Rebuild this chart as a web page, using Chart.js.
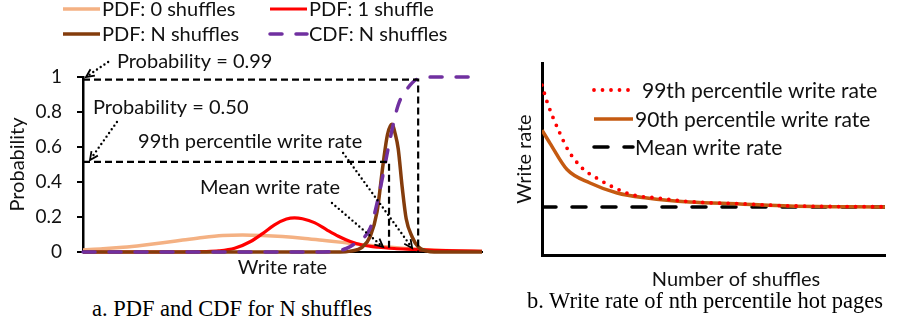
<!DOCTYPE html>
<html>
<head>
<meta charset="utf-8">
<script src="https://cdn.jsdelivr.net/npm/chart.js@4.4.0/dist/chart.umd.min.js"></script>
<style>
  html, body { margin: 0; padding: 0; background: #fff; }
  body { width: 897px; height: 329px; position: relative; overflow: hidden; }
  .panel { position: absolute; top: 0; height: 295px; }
  #panelA { left: 0; width: 490px; }
  #panelB { left: 490px; width: 407px; }
  .caption { position: absolute; font-family: "Liberation Serif", "Times New Roman", serif; font-size: 22.5px;
             line-height: 22px; white-space: nowrap; color: #000; transform: translateX(-50%); }
</style>
</head>
<body>
<div class="panel" id="panelA"><canvas id="chartA"></canvas></div>
<div class="panel" id="panelB"><canvas id="chartB"></canvas></div>
<div class="caption" style="left:232px; top:298px;">a. PDF and CDF for N shuffles</div>
<div class="caption" style="left:705px; top:290px;">b. Write rate of nth percentile hot pages</div>

<script>
// ---- panel a: distributions over write rate (x in 0..100, arbitrary units) ----
const pdf0X = [0, 5, 10, 15, 20, 25, 30, 35, 40, 45, 50, 55, 60, 65, 70, 75, 80, 85, 90, 95, 100];
const pdf0Y = [0.012, 0.018, 0.027, 0.039, 0.053, 0.068, 0.083, 0.094, 0.097, 0.094, 0.088, 0.079,
               0.067, 0.055, 0.042, 0.031, 0.022, 0.014, 0.009, 0.006, 0.004];

const pdf1X = [0, 25, 30, 34, 38, 42, 45, 48, 51, 53, 55, 58, 61, 64, 67, 70, 74, 78, 83, 88, 94, 100];
const pdf1Y = [0, 0, 0.002, 0.006, 0.021, 0.06, 0.105, 0.155, 0.188, 0.195, 0.19, 0.168, 0.128, 0.09,
               0.06, 0.04, 0.027, 0.02, 0.015, 0.01, 0.006, 0.004];

const pdfNX = [0, 64.4, 67, 70, 72, 73.7, 75.2, 76.3, 77.4, 78.3, 79, 80, 81, 82.5, 84, 86.2, 88, 100];
const pdfNY = [0, 0, 0.005, 0.028, 0.09, 0.23, 0.5, 0.67, 0.73, 0.67, 0.59, 0.37, 0.19, 0.086, 0.03, 0.005, 0, 0];

const cdfNX = [0, 60, 66, 68.6, 72, 74, 75.7, 77, 79, 81.5, 84, 88.7, 100];
const cdfNY = [0, 0, 0.02, 0.057, 0.137, 0.31, 0.5, 0.65, 0.84, 0.94, 0.99, 1.0, 1.0];

// percentile guide lines (probability level, write rate where CDF reaches it)
const p50Level = 0.515, p50Rate = 76.7;
const p99Level = 0.985, p99Rate = 84;

// ---- panel b: write rate vs number of shuffles (both axes unitless) ----
const p99ShufX = [0, 1.5, 2.9, 5.2, 7.6, 11.7, 16, 20.7, 26.5, 33.5, 43, 57.7, 72, 100];
const p99ShufY = [0.885, 0.797, 0.73, 0.635, 0.547, 0.453, 0.40, 0.354, 0.3125, 0.297, 0.278, 0.267, 0.256, 0.251];
const p90ShufX = [0, 2.3, 7.3, 14, 21.9, 30.6, 43, 57.7, 72, 100];
const p90ShufY = [0.65, 0.583, 0.445, 0.375, 0.323, 0.297, 0.276, 0.266, 0.255, 0.25];
const meanShufX = [0, 100];
const meanShufY = [0.25, 0.25];

const FONT = 'Lato, "Open Sans", sans-serif';
const TXT = '#111';

function pts(xs, ys) {
    return xs.map((x, i) => ({ x: x, y: ys[i] }));
}

function lineSample(ctx, ds, x0, x1, y) {
    ctx.save();
    ctx.strokeStyle = ds.borderColor;
    ctx.lineWidth = ds.borderWidth;
    ctx.setLineDash(ds.borderDash || []);
    ctx.lineCap = ds.borderCapStyle || 'butt';
    ctx.beginPath();
    ctx.moveTo(x0, y);
    ctx.lineTo(x1, y);
    ctx.stroke();
    ctx.restore();
}

function dottedArrow(ctx, x1, y1, x2, y2) {
    const a = Math.atan2(y2 - y1, x2 - x1);
    const h = 9;
    ctx.save();
    ctx.strokeStyle = '#000';
    ctx.lineWidth = 2.4;
    ctx.lineCap = 'round';
    ctx.setLineDash([0, 4.5]);
    ctx.beginPath();
    ctx.moveTo(x1, y1);
    ctx.lineTo(x2 - 4 * Math.cos(a), y2 - 4 * Math.sin(a));
    ctx.stroke();
    ctx.setLineDash([]);
    ctx.lineWidth = 1.8;
    ctx.lineCap = 'butt';
    ctx.beginPath();
    ctx.moveTo(x2 - h * Math.cos(a - 0.45), y2 - h * Math.sin(a - 0.45));
    ctx.lineTo(x2, y2);
    ctx.lineTo(x2 - h * Math.cos(a + 0.45), y2 - h * Math.sin(a + 0.45));
    ctx.stroke();
    ctx.restore();
}

// legend for panel a: two columns, two rows above the plot
const legendA = {
    id: 'legendA',
    afterDraw(chart) {
        const ctx = chart.ctx;
        const slots = [[63, 9], [270, 9], [63, 34], [270, 34]];
        const order = ['PDF: 0 shuffles', 'PDF: 1 shuffle', 'PDF: N shuffles', 'CDF: N shuffles'];
        ctx.save();
        ctx.font = '20px ' + FONT;
        ctx.fillStyle = TXT;
        ctx.textBaseline = 'middle';
        order.forEach((label, i) => {
            const ds = chart.data.datasets.find(d => d.label === label);
            const [x, y] = slots[i];
            lineSample(ctx, ds, x, x + 37, y);
            ctx.fillText(label, x + 39, y + 1);
        });
        ctx.restore();
    }
};

// call-outs of panel a, placed in data coordinates
const notesA = [
    { text: 'Probability = 0.99', x: 8.5, y: 1.086, from: [6.3, 1.086], to: [0.75, 1.0] },
    { text: 'Probability = 0.50', x: 2.5, y: 0.823, from: [8.5, 0.743], to: [1.75, 0.526] },
    { text: '99th percentile write rate', x: 13.8, y: 0.629, from: [65.2, 0.566], to: [82.5, 0.023] },
    { text: 'Mean write rate', x: 29.3, y: 0.371, from: [62.4, 0.28], to: [75.2, 0.029] }
];

const notesPluginA = {
    id: 'notesA',
    afterDraw(chart) {
        const ctx = chart.ctx;
        const sx = chart.scales.x, sy = chart.scales.y;
        ctx.save();
        ctx.font = '20px ' + FONT;
        ctx.fillStyle = TXT;
        ctx.textBaseline = 'middle';
        notesA.forEach(n => {
            ctx.fillText(n.text, sx.getPixelForValue(n.x), sy.getPixelForValue(n.y));
            dottedArrow(ctx, sx.getPixelForValue(n.from[0]), sy.getPixelForValue(n.from[1]),
                sx.getPixelForValue(n.to[0]), sy.getPixelForValue(n.to[1]));
        });
        ctx.restore();
    }
};

const legendB = {
    id: 'legendB',
    afterDraw(chart) {
        const ctx = chart.ctx;
        const rows = [[90, 152], [119, 145], [147, 145]];
        ctx.save();
        ctx.font = '21px ' + FONT;
        ctx.fillStyle = TXT;
        ctx.textBaseline = 'middle';
        chart.data.datasets.forEach((ds, i) => {
            const [y, tx] = rows[i];
            lineSample(ctx, ds, 104, i === 0 ? 140 : 143, y);
            ctx.fillText(ds.label, tx, y + 1);
        });
        // x axis title sits a little right of the axis centre in the original
        ctx.textAlign = 'center';
        ctx.font = '20px ' + FONT;
        ctx.fillText('Number of shuffles', 246, 280);
        ctx.restore();
    }
};

Chart.defaults.animation = false;
Chart.defaults.plugins.legend.display = false;
Chart.defaults.plugins.tooltip.enabled = false;
Chart.defaults.elements.point.radius = 0;

new Chart(document.getElementById('chartA'), {
    type: 'line',
    data: {
        datasets: [
            { label: 'p99 guide', data: [{ x: 0, y: p99Level }, { x: p99Rate, y: p99Level }, { x: p99Rate, y: 0 }],
              borderColor: '#000', borderWidth: 2.2, borderDash: [7, 4], clip: false },
            { label: 'p50 guide', data: [{ x: 0, y: p50Level }, { x: p50Rate, y: p50Level }, { x: p50Rate, y: 0 }],
              borderColor: '#000', borderWidth: 2.2, borderDash: [7, 4], clip: false },
            { label: 'CDF: N shuffles', data: pts(cdfNX, cdfNY), borderColor: '#7030A0', borderWidth: 3.5,
              borderDash: [12, 14], borderCapStyle: 'round', cubicInterpolationMode: 'monotone', clip: false },
            { label: 'PDF: N shuffles', data: pts(pdfNX, pdfNY), borderColor: '#843C0C', borderWidth: 3.5,
              cubicInterpolationMode: 'monotone', clip: false },
            { label: 'PDF: 1 shuffle', data: pts(pdf1X, pdf1Y), borderColor: '#FF0000', borderWidth: 3.2,
              cubicInterpolationMode: 'monotone', clip: false },
            { label: 'PDF: 0 shuffles', data: pts(pdf0X, pdf0Y), borderColor: '#F4B183', borderWidth: 3.5,
              cubicInterpolationMode: 'monotone', clip: false }
        ]
    },
    options: {
        responsive: true,
        maintainAspectRatio: false,
        layout: { padding: { top: 77, right: 8, bottom: 0, left: 0 } },
        scales: {
            x: {
                type: 'linear', min: 0, max: 100,
                ticks: { display: false },
                grid: { display: false },
                border: { color: '#000', width: 2 },
                title: { display: true, text: 'Write rate', color: TXT, font: { family: FONT, size: 20 },
                         padding: { top: 0, bottom: 15 } },
                afterFit: s => { s.height = 43; }
            },
            y: {
                min: 0, max: 1,
                ticks: { stepSize: 0.2, padding: 15, color: TXT, font: { family: FONT, size: 19 },
                         callback: v => String(Math.round(v * 10) / 10) },
                grid: { drawOnChartArea: false, drawTicks: true, tickLength: 6, color: '#000', lineWidth: 2 },
                border: { color: '#000', width: 2.5 },
                title: { display: true, text: 'Probability', color: TXT, font: { family: FONT, size: 20 },
                         padding: { top: 6, bottom: 0 } },
                afterFit: s => { s.width = 83; }
            }
        }
    },
    plugins: [legendA, notesPluginA]
});

new Chart(document.getElementById('chartB'), {
    type: 'line',
    data: {
        datasets: [
            { label: '99th percentile write rate', data: pts(p99ShufX, p99ShufY), borderColor: '#FF0000',
              borderWidth: 3.8, borderDash: [0, 8.5], borderCapStyle: 'round', cubicInterpolationMode: 'monotone' },
            { label: '90th percentile write rate', data: pts(p90ShufX, p90ShufY), borderColor: '#C55A11',
              borderWidth: 3.5, cubicInterpolationMode: 'monotone' },
            { label: 'Mean write rate', data: pts(meanShufX, meanShufY), borderColor: '#000',
              borderWidth: 3.5, borderDash: [14, 16], borderCapStyle: 'round' }
        ]
    },
    options: {
        responsive: true,
        maintainAspectRatio: false,
        layout: { padding: { top: 63, right: 12, bottom: 0, left: 0 } },
        scales: {
            x: {
                type: 'linear', min: 0, max: 100,
                ticks: { display: false },
                grid: { display: false },
                border: { color: '#000', width: 3 },
                afterFit: s => { s.height = 40; }
            },
            y: {
                min: 0, max: 1,
                ticks: { display: false },
                grid: { display: false },
                border: { color: '#000', width: 3 },
                title: { display: true, text: 'Write rate', color: TXT, font: { family: FONT, size: 20 },
                         padding: { top: 23, bottom: 0 } },
                afterFit: s => { s.width = 52; }
            }
        }
    },
    plugins: [legendB]
});
</script>
</body>
</html>
